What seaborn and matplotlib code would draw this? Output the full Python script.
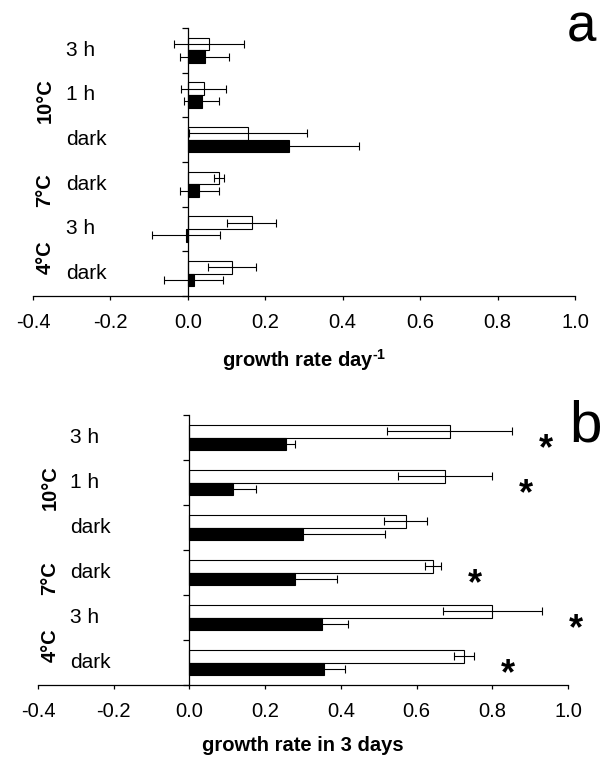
import numpy as np
import pandas as pd
from matplotlib import pyplot as plt
from matplotlib import transforms
import seaborn as sns

sns.set_theme(style='ticks')
plt.rcParams['font.family'] = ['Liberation Sans', 'DejaVu Sans']
plt.rcParams['axes.unicode_minus'] = False
plt.rcParams['mathtext.fontset'] = 'custom'
plt.rcParams['mathtext.rm'] = 'Liberation Sans:bold'
plt.rcParams['mathtext.bf'] = 'Liberation Sans:bold'
for k in ['text.color', 'axes.labelcolor', 'xtick.color', 'ytick.color', 'axes.edgecolor']:
    plt.rcParams[k] = 'black'

# rows top to bottom
rows = ['10°C 3 h', '10°C 1 h', '10°C dark', '7°C dark', '4°C 3 h', '4°C dark']
light = ['3 h', '1 h', 'dark', 'dark', '3 h', 'dark']
temps = ['10°C', '7°C', '4°C']
temp_rows = [[0, 1, 2], [3], [4, 5]]

# a: growth rate per day
a_open = [0.055, 0.041, 0.155, 0.080, 0.165, 0.114]
a_open_err = [0.090, 0.058, 0.152, 0.013, 0.063, 0.062]
a_filled = [0.043, 0.036, 0.262, 0.030, -0.005, 0.015]
a_filled_err = [0.063, 0.045, 0.180, 0.050, 0.087, 0.076]

# b: growth rate in 3 days
b_open = [0.688, 0.675, 0.571, 0.643, 0.800, 0.725]
b_open_err = [0.165, 0.123, 0.057, 0.022, 0.130, 0.026]
b_filled = [0.254, 0.114, 0.299, 0.280, 0.351, 0.355]
b_filled_err = [0.024, 0.063, 0.217, 0.110, 0.067, 0.055]
b_signif = [True, True, False, True, True, True]

xticks = [-0.4, -0.2, 0.0, 0.2, 0.4, 0.6, 0.8, 1.0]


def panel(ax, open_v, open_e, filled_v, filled_e, xlabel, label_x, group_x):
    df = pd.DataFrame({
        'row': rows * 2,
        'series': ['open'] * len(rows) + ['filled'] * len(rows),
        'value': open_v + filled_v,
    })
    sns.barplot(data=df, x='value', y='row', hue='series', orient='h',
                palette={'open': 'white', 'filled': 'black'}, width=0.56,
                edgecolor='black', linewidth=0.8, errorbar=None, legend=False, ax=ax)
    for bar in ax.patches:
        yc = bar.get_y() + bar.get_height() / 2
        i = int(round(yc))
        e = open_e[i] if yc < i else filled_e[i]
        v = bar.get_x() + bar.get_width()
        ax.errorbar(v, yc, xerr=e, fmt='none', ecolor='black',
                    elinewidth=0.8, capsize=3, capthick=0.8)

    ax.set_xlim(-0.4, 1.0)
    ax.set_ylim(len(rows) - 0.5, -0.5)
    ax.set_xticks(xticks)
    ax.set_xticklabels([f'{t:.1f}' for t in xticks], fontsize=14.5)
    ax.set_yticks(np.arange(len(rows) + 1) - 0.5)
    ax.set_yticklabels([])
    ax.set_ylabel('')
    ax.set_xlabel(xlabel, fontsize=14.5, fontweight='bold', labelpad=11)
    ax.spines['left'].set_position(('data', 0))
    ax.spines['top'].set_visible(False)
    ax.spines['right'].set_visible(False)
    for s in ['left', 'bottom']:
        ax.spines[s].set_linewidth(0.9)
    ax.tick_params(axis='x', length=3, width=0.9, pad=9)
    ax.tick_params(axis='y', length=4, width=0.9)

    trans = transforms.blended_transform_factory(ax.figure.transFigure, ax.transData)
    for i, lab in enumerate(light):
        ax.text(label_x, i, lab, transform=trans, ha='left', va='center', fontsize=15)
    for temp, idx in zip(temps, temp_rows):
        ax.text(group_x, np.mean(idx) + 0.12, temp, transform=trans, rotation=90,
                ha='center', va='center', fontsize=14.5, fontweight='bold')


fig = plt.figure(figsize=(6.01, 7.6), dpi=100)
ax_a = fig.add_axes([33 / 601, 1 - 296 / 760, 542 / 601, 268 / 760])
ax_b = fig.add_axes([38 / 601, 1 - 685 / 760, 530 / 601, 270 / 760])

panel(ax_a, a_open, a_open_err, a_filled, a_filled_err,
      r'growth rate day$^{\text{-1}}$', 66 / 601, 45 / 601)
panel(ax_b, b_open, b_open_err, b_filled, b_filled_err,
      'growth rate in 3 days', 70 / 601, 50 / 601)

# significance stars
star_size = 26
for i, sig in enumerate(b_signif):
    if sig:
        x = b_open[i] + b_open_err[i] + 0.09
        ax_b.annotate('*', xy=(x, i + 0.03), xytext=(0, -0.575 * star_size),
                      textcoords='offset points', ha='center', va='baseline',
                      fontsize=star_size, fontweight='bold', annotation_clip=False)

fig.text(581 / 601, 1 - 27 / 760, 'a', fontsize=38, ha='center', va='center')
fig.text(586 / 601, 1 - 426 / 760, 'b', fontsize=42, ha='center', va='center')

fig.savefig('out.png', dpi=100)
